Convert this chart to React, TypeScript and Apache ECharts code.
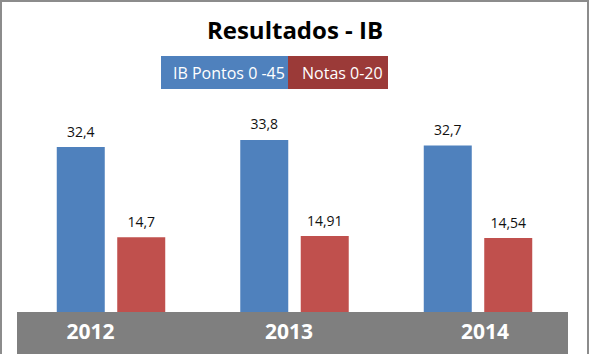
import React, { useEffect, useRef } from "react";
import * as echarts from "echarts";

const categories = ["2012", "2013", "2014"];
const ibPontos = [32.4, 33.8, 32.7];
const notas = [14.7, 14.91, 14.54];
const seriesNames = ["IB Pontos 0 -45", "Notas 0-20"];
const titleText = "Resultados - IB";

const FONT = "'Open Sans', 'DejaVu Sans', sans-serif";
const BLUE = "#4F81BD";
const RED = "#C0504D";
const LEG_RED = "#9B3A38";

// per-label horizontal nudges to mimic reference label placement
const labelPads = [
  [0, 41, 0, 0],
  [0, 11, 0, 0],
  [0, 0, 0, 14],
];

export default function App() {
  const ref = useRef<HTMLDivElement>(null);
  useEffect(() => {
    if (!ref.current) return;
    const chart = echarts.init(ref.current, null, { renderer: "svg" });
    const fmt = (p: any) => String(p.value).replace(".", ",");
    chart.setOption({
      animation: false,
      backgroundColor: "#ffffff",
      title: {
        text: titleText,
        left: "center",
        top: 12,
        textStyle: { fontFamily: FONT, fontSize: 24, fontWeight: "bold", color: "#000" },
      },
      grid: { left: 19.25, right: 20.25, top: 83, bottom: 42 },
      xAxis: {
        type: "category",
        data: categories.map((c, i) => ({ value: c, textStyle: { padding: labelPads[i] } })),
        axisLine: { show: false },
        axisTick: { show: false },
        axisLabel: {
          color: "#ffffff",
          fontFamily: FONT,
          fontSize: 21,
          fontWeight: "bold",
          margin: 8,
        },
      },
      yAxis: { type: "value", min: 0, max: 45, show: false, splitLine: { show: false } },
      graphic: [
        {
          type: "rect",
          z: -1,
          shape: { x: 17, y: 312, width: 551, height: 50 },
          style: { fill: "#7F7F7F" },
          silent: true,
        },
        {
          type: "rect",
          z: 100,
          shape: { x: 1, y: 1, width: 587, height: 370 },
          style: { fill: "none", stroke: "#8C8C8C", lineWidth: 2 },
          silent: true,
        },
        {
          type: "group",
          left: 161,
          top: 56,
          children: [
            { type: "rect", shape: { x: 0, y: 0, width: 127, height: 33 }, style: { fill: BLUE } },
            {
              type: "text",
              x: 12,
              y: 17,
              style: {
                text: seriesNames[0],
                fill: "#fff",
                font: `16px ${FONT}`,
                verticalAlign: "middle",
              },
            },
            { type: "rect", shape: { x: 127, y: 0, width: 100, height: 33 }, style: { fill: LEG_RED } },
            {
              type: "text",
              x: 141,
              y: 17,
              style: {
                text: seriesNames[1],
                fill: "#fff",
                font: `16px ${FONT}`,
                verticalAlign: "middle",
              },
            },
          ],
        },
      ],
      series: [
        {
          name: seriesNames[0],
          type: "bar",
          data: ibPontos,
          barWidth: 48,
          barGap: "26%",
          itemStyle: { color: BLUE },
          label: {
            show: true,
            position: "top",
            distance: 9,
            formatter: fmt,
            color: "#111",
            fontFamily: FONT,
            fontSize: 14,
          },
        },
        {
          name: seriesNames[1],
          type: "bar",
          data: notas,
          barWidth: 48,
          barGap: "26%",
          itemStyle: { color: RED },
          label: {
            show: true,
            position: "top",
            distance: 9,
            formatter: fmt,
            color: "#111",
            fontFamily: FONT,
            fontSize: 14,
          },
        },
      ],
    });
    return () => chart.dispose();
  }, []);
  return (
    <div
      ref={ref}
      style={{ position: "fixed", left: 0, top: 0, width: 590, height: 354 }}
    />
  );
}
